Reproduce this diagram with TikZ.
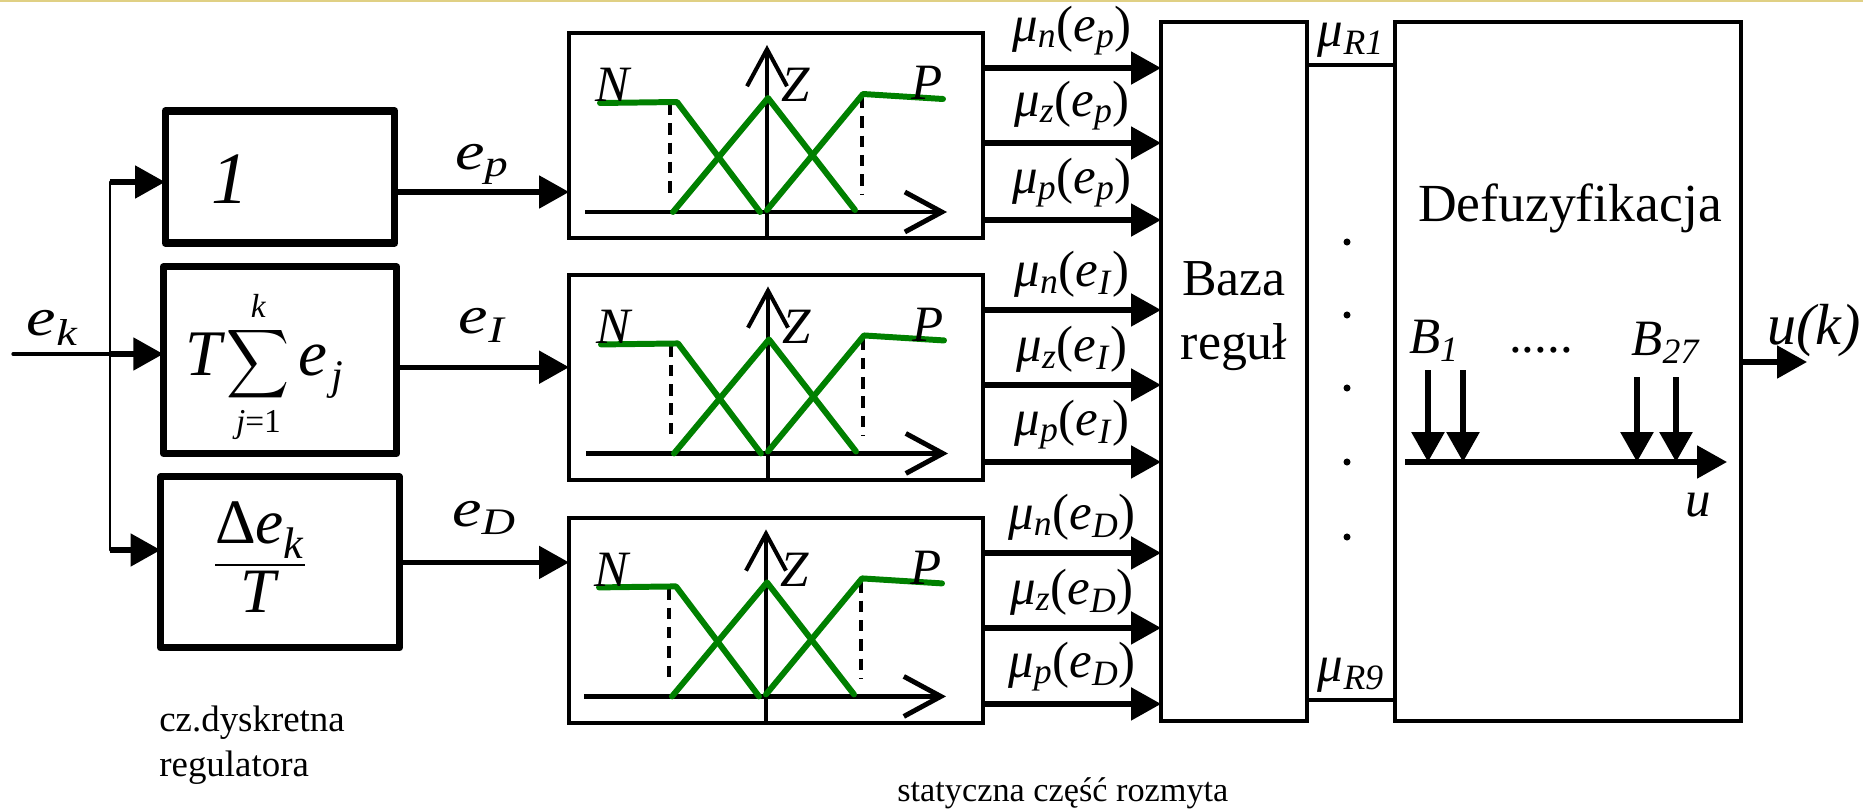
\documentclass[tikz,border=0pt]{standalone}
\usepackage{amsmath}
\usepackage{graphicx}
\usepackage{fontspec}
\setmainfont{Liberation Serif}
\usepackage{xcolor}
\usetikzlibrary{arrows.meta,positioning,calc}
\definecolor{mfgreen}{RGB}{0,128,0}
\definecolor{slideline}{RGB}{224,208,132}
\newcommand{\sbi}[1]{\textsubscript{\textit{#1}}}
\newcommand{\wide}[1]{\scalebox{1.3}[1.05]{#1}}

\begin{document}
\begin{tikzpicture}[
    x=0.02cm, y=-0.02cm,
    font=\fontsize{29}{32}\selectfont,
    gain/.style={rectangle, draw, line width=4pt, line join=round, inner sep=0pt, outer sep=0pt},
    fuzzbox/.style={rectangle, draw, line width=1.9pt, minimum width=8.28cm, minimum height=4.1cm, inner sep=0pt, outer sep=0pt},
    tallbox/.style={rectangle, draw, line width=1.9pt, minimum height=13.98cm, inner sep=0pt, outer sep=0pt},
    arrow/.style={-{Triangle[length=0.6cm,width=0.64cm]}, line width=3pt},
    wire/.style={line width=1.9pt, line cap=round},
    axis/.style={-{Straight Barb[length=0.74cm,width=0.8cm]}, line width=2.8pt},
    memb/.style={mfgreen, line width=3.4pt, line cap=round, line join=round},
    guide/.style={line width=2.2pt, dash pattern=on 6.5pt off 4.5pt},
    lbl/.style={inner sep=0pt},
    note/.style={font=\fontsize{21}{25.6}\selectfont, align=left, inner sep=0pt},
    pics/fuzzyset/.style={code={
        \draw[axis] (-182,0) -- (180,0);
        \draw[axis, line width=2.3pt] (0,26) -- (0,-167);
        \draw[guide] (-97,-108) -- (-97,-12);
        \draw[guide] (95,-115) -- (95,-17);
        \draw[memb] (-167,-109) -- (-90,-110) -- (-7,0);
        \draw[memb] (-94,0) -- (1,-114) -- (88,-2);
        \draw[memb] (0,-2) -- (96,-118) -- (176,-113);
        \node[lbl] (-n) at (-153,-127) {\textit{N}};
        \node[lbl] (-z) at (29,-127) {\textit{Z}};
        \node[lbl] (-p) at (160,-129) {\textit{P}};
    }}
]
\useasboundingbox (0,0) rectangle (1863,811);
\draw[slideline, line width=1.2pt] (0,1) -- (1863,1);

\node[gain, minimum width=4.6cm, minimum height=2.64cm] (b1) at (280,177) {};
\node[gain, minimum width=4.67cm, minimum height=3.73cm, below=0.48cm of b1] (b2) {};
\node[gain, minimum width=4.78cm, minimum height=3.42cm, below=0.47cm of b2] (b3) {};
\node[lbl, anchor=base, font=\fontsize{42}{44}\selectfont] (onetxt) at ($(b1.center)+(-50,26)$) {\textit{1}};
\node[lbl, anchor=base, font=\fontsize{37}{40}\selectfont] (sumtxt) at ($(b2.center)+(-16,15)$) {\textit{T}\kern1pt$\mathop{\vcenter{\hbox{\resizebox*{1.26cm}{1.54cm}{$\displaystyle\sum$}}}}\limits^{\mbox{\fontsize{19}{20}\selectfont\textit{k}}}_{\mbox{\fontsize{19}{20}\selectfont\textit{j}=1}}$\kern5pt\textit{e}\kern2pt\raisebox{-0.22em}{\fontsize{24}{26}\selectfont\textit{j}}};
\node[lbl, anchor=base, font=\fontsize{36}{40}\selectfont] (fractxt) at ($(b3.center)+(-20,13.5)$) {$\dfrac{\mbox{Δ\textit{e}\sbi{k}}}{\mbox{\textit{T}}}$};

\node[fuzzbox] (fA) at (776,135.5) {};
\node[fuzzbox, below=0.74cm of fA] (fB) {};
\node[fuzzbox, below=0.76cm of fB] (fC) {};
\pic (mA) at ($(fA.center)+(-9,76.5)$) {fuzzyset};
\pic (mB) at ($(fB.center)+(-8,76)$) {fuzzyset};
\pic (mC) at ($(fC.center)+(-10,76)$) {fuzzyset};

\node[tallbox, minimum width=2.92cm] (baza) at (1234,371.5) {};
\node[tallbox, minimum width=6.92cm] (defuz) at (1568,371.5) {};
\node[lbl, align=center, font=\fontsize{29.5}{36}\selectfont] (bazatxt) at (1234,316) {Baza\\reguł};
\node[lbl, font=\fontsize{30.5}{34}\selectfont] (defuztxt) at (1570,208) {Defuzyfikacja};

\coordinate (ek) at (13,354);
\coordinate (j1) at (110,182);
\coordinate (j2) at (110,354);
\coordinate (j3) at (110,550);
\draw[wire, line width=1.7pt] (j1) -- (j3);
\draw[wire] (ek) -- (j2) node[pos=0.41, above=0.14cm, lbl] (eklbl) {\wide{\textit{e}\sbi{k}}};
\draw[arrow] (j1) -- (j1 -| b1.west);
\draw[arrow] (j2) -- (j2 -| b2.west);
\draw[arrow] (j3) -- (j3 -| b3.west);

\draw[arrow] ($(b1.east)+(0,15)$) coordinate (ep) -- (ep -| fA.west) node[midway, above=0.1cm, lbl] (eplbl) {\wide{\textit{e}\sbi{p}}};
\draw[arrow] ($(b2.east)+(0,7)$) coordinate (ei) -- (ei -| fB.west) node[midway, above=0.44cm, lbl] (eilbl) {\wide{\textit{e}\sbi{I}}};
\draw[arrow] ($(b3.east)+(0,0)$) coordinate (ed) -- (ed -| fC.west) node[midway, above=0.5cm, lbl] (edlbl) {\wide{\textit{e}\sbi{D}}};

\draw[arrow] ($(fA.north east)+(0,35)$) coordinate (a1) -- (a1 -| baza.west) node[midway, above=0.2cm, lbl] (m1) {\textit{μ}\sbi{n}(\textit{e}\sbi{p})};
\draw[arrow] ($(fA.north east)+(0,110)$) coordinate (a2) -- (a2 -| baza.west) node[midway, above=0.2cm, lbl] (m2) {\textit{μ}\sbi{z}(\textit{e}\sbi{p})};
\draw[arrow] ($(fA.north east)+(0,187)$) coordinate (a3) -- (a3 -| baza.west) node[midway, above=0.2cm, lbl] (m3) {\textit{μ}\sbi{p}(\textit{e}\sbi{p})};
\draw[arrow] ($(fB.north east)+(0,35)$) coordinate (a4) -- (a4 -| baza.west) node[midway, above=0.2cm, lbl] (m4) {\textit{μ}\sbi{n}(\textit{e}\sbi{I})};
\draw[arrow] ($(fB.north east)+(0,110)$) coordinate (a5) -- (a5 -| baza.west) node[midway, above=0.2cm, lbl] (m5) {\textit{μ}\sbi{z}(\textit{e}\sbi{I})};
\draw[arrow] ($(fB.north east)+(0,187)$) coordinate (a6) -- (a6 -| baza.west) node[midway, above=0.2cm, lbl] (m6) {\textit{μ}\sbi{p}(\textit{e}\sbi{I})};
\draw[arrow] ($(fC.north east)+(0,35)$) coordinate (a7) -- (a7 -| baza.west) node[midway, above=0.2cm, lbl] (m7) {\textit{μ}\sbi{n}(\textit{e}\sbi{D})};
\draw[arrow] ($(fC.north east)+(0,110)$) coordinate (a8) -- (a8 -| baza.west) node[midway, above=0.2cm, lbl] (m8) {\textit{μ}\sbi{z}(\textit{e}\sbi{D})};
\draw[arrow] ($(fC.north east)+(0,186)$) coordinate (a9) -- (a9 -| baza.west) node[midway, above=0.2cm, lbl] (m9) {\textit{μ}\sbi{p}(\textit{e}\sbi{D})};

\draw[wire] ($(baza.north east)+(0,43)$) coordinate (r1) -- (r1 -| defuz.west) node[midway, above=0.12cm, lbl] (r1lbl) {\textit{μ}\sbi{R1}};
\draw[wire] ($(baza.south east)+(0,-21)$) coordinate (r9) -- (r9 -| defuz.west) node[midway, above=0.12cm, lbl] (r9lbl) {\textit{μ}\sbi{R9}};
\fill (1347,242) circle[radius=2pt];
\fill (1347,315) circle[radius=2pt];
\fill (1347,388) circle[radius=2pt];
\fill (1347,462) circle[radius=2pt];
\fill (1347,537) circle[radius=2pt];

\coordinate (u0) at (1405,462);
\coordinate (u1) at (1727,462);
\draw[arrow, line width=3pt] (u0) -- (u1);
\draw[arrow, line width=3.4pt] (1428,370) -- (1428,462);
\draw[arrow, line width=3.4pt] (1463,370) -- (1463,462);
\draw[arrow, line width=3.4pt] (1637,377) -- (1637,462);
\draw[arrow, line width=3.4pt] (1676,377) -- (1676,462);
\node[lbl] (blbl) at (1434,341) {\textit{B}\sbi{1}};
\node[lbl] (dotslbl) at (1541,350) {.....};
\node[lbl] (bnlbl) at (1666,343) {\textit{B}\sbi{27}};
\node[lbl] (ulbl) at (1698,505) {\textit{u}};

\coordinate (uout) at (1807,362);
\draw[arrow] (uout -| defuz.east) -- (uout);
\node[lbl, font=\fontsize{33}{36}\selectfont] (uklbl) at (1814,331) {\textit{u(k)}};

\node[note, anchor=west] (dyskr) at (159,745) {cz.dyskretna\\regulatora};
\node[note, anchor=west, font=\fontsize{19.5}{22}\selectfont] (statyczna) at (897,793) {statyczna część rozmyta};
\end{tikzpicture}
\end{document}
